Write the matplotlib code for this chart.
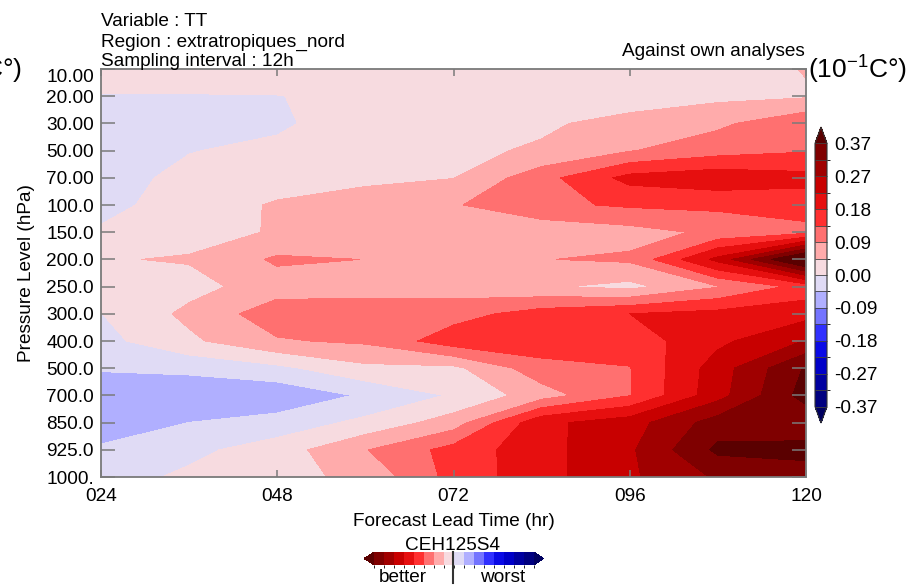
import numpy as np
import matplotlib
matplotlib.use("Agg")
import matplotlib.pyplot as plt
from matplotlib.colors import ListedColormap, BoundaryNorm
from matplotlib.colorbar import ColorbarBase
from matplotlib.lines import Line2D

plt.rcParams['font.family'] = ['Liberation Sans', 'DejaVu Sans']
plt.rcParams['mathtext.fontset'] = 'custom'
plt.rcParams['mathtext.rm'] = 'Liberation Sans'
plt.rcParams['font.size'] = 13.7

# ---------------------------------------------------------------- data
lead_hours = [24, 36, 48, 60, 72, 84, 96, 108, 120]
x_tick_hours = [24, 48, 72, 96, 120]
x_tick_labels = ["024", "048", "072", "096", "120"]
pressure_labels = ["10.00", "20.00", "30.00", "50.00", "70.00", "100.0",
                   "150.0", "200.0", "250.0", "300.0", "400.0", "500.0",
                   "700.0", "850.0", "925.0", "1000."]

# score difference (10^-1 C), one row per pressure level, one column per lead time
p10 = [0.020, 0.020, 0.020, 0.020, 0.025, 0.030, 0.030, 0.020, 0.049]
p20 = [-0.002, -0.002, -0.001, 0.010, 0.015, 0.020, 0.025, 0.035, 0.041]
p30 = [-0.020, -0.015, -0.009, 0.030, 0.030, 0.040, 0.060, 0.083, 0.130]
p50 = [-0.025, -0.002, 0.012, 0.035, 0.038, 0.051, 0.090, 0.120, 0.135]
p70 = [-0.020, 0.013, 0.025, 0.035, 0.045, 0.122, 0.200, 0.215, 0.200]
p100 = [-0.015, 0.023, 0.051, 0.070, 0.088, 0.129, 0.145, 0.150, 0.160]
p150 = [0.006, 0.030, 0.050, 0.065, 0.070, 0.060, 0.075, 0.102, 0.125]
p200 = [0.043, 0.050, 0.100, 0.092, 0.085, 0.091, 0.100, 0.245, 0.450]
p250 = [0.035, 0.030, 0.070, 0.070, 0.070, 0.052, 0.033, 0.090, 0.156]
p300 = [-0.001, 0.0575, 0.119, 0.120, 0.120, 0.160, 0.185, 0.200, 0.215]
p400 = [-0.015, 0.037, 0.088, 0.100, 0.165, 0.170, 0.160, 0.220, 0.280]
p500 = [-0.040, -0.035, -0.012, 0.035, 0.035, 0.120, 0.137, 0.255, 0.375]
p700 = [-0.090, -0.080, -0.080, -0.040, 0.005, 0.071, 0.137, 0.260, 0.390]
p850 = [-0.070, -0.046, -0.028, 0.012, 0.069, 0.220, 0.257, 0.346, 0.330]
p925 = [-0.040, -0.012, 0.023, 0.090, 0.156, 0.215, 0.270, 0.380, 0.390]
p1000 = [-0.020, 0.009, 0.030, 0.059, 0.155, 0.215, 0.270, 0.330, 0.340]

score = np.array([p10, p20, p30, p50, p70, p100, p150, p200, p250, p300,
                  p400, p500, p700, p850, p925, p1000])

levels = np.linspace(-0.37, 0.37, 17)
level_labels = ["-0.37", "-0.27", "-0.18", "-0.09", "0.00",
                "0.09", "0.18", "0.27", "0.37"]

band_colors = ["#000080", "#0000a0", "#0000c8", "#0a0ae6", "#3030ff",
               "#7474ff", "#b0afff", "#e0dbf5", "#f7dbe0", "#ffabab",
               "#ff7070", "#ff3030", "#e60f0f", "#c80000", "#a00000",
               "#7f0000"]
under_color = "#000060"
over_color = "#5a0000"

W, H = 916, 585


def fx(px):
    return px / W


def fy(py):
    return 1 - py / H


cmap = ListedColormap(band_colors)
cmap.set_under(under_color)
cmap.set_over(over_color)
norm = BoundaryNorm(levels, cmap.N)

fig = plt.figure(figsize=(W / 100, H / 100), dpi=100)

# ---------------------------------------------------------------- main panel
ax = fig.add_axes([fx(101), fy(477), fx(806) - fx(101), fy(69) - fy(477)])
rows = np.arange(len(pressure_labels))
cs = ax.contourf(lead_hours, rows, score, levels=levels, cmap=cmap,
                 norm=norm, extend='both')
ax.set_xlim(lead_hours[0], lead_hours[-1])
ax.set_ylim(rows[-1], rows[0])

frame_color = "#7a7a7a"
for sp in ax.spines.values():
    sp.set_color(frame_color)
    sp.set_linewidth(1.3)

ax.set_xticks(x_tick_hours)
ax.set_xticklabels(x_tick_labels)
ax.set_yticks(rows)
ax.set_yticklabels(pressure_labels)
ax.tick_params(axis='x', direction='in', length=5, width=1.1,
               color=frame_color, top=True, pad=8)
ax.tick_params(axis='y', direction='in', length=10, width=1.1,
               color=frame_color, right=True, pad=5)
ax.get_yticklabels()[0].set_va('top')

ax.set_xlabel("Forecast Lead Time (hr)", labelpad=6)
ax.set_ylabel("Pressure Level (hPa)", labelpad=8)

# ---------------------------------------------------------------- header text
fig.text(fx(101), fy(26.5), "Variable : TT", ha='left', va='baseline')
fig.text(fx(101), fy(46.5), "Region : extratropiques_nord", ha='left',
         va='baseline')
fig.text(fx(101), fy(66), "Sampling interval : 12h", ha='left',
         va='baseline')
fig.text(fx(805), fy(55.5), "Against own analyses", ha='right',
         va='baseline')
unit = r"(10$^{\mathregular{-1}}$C°)"
fig.text(fx(808), fy(78), unit, ha='left', va='baseline', fontsize=19)
fig.text(fx(22), fy(78), unit, ha='right', va='baseline', fontsize=19)

# ---------------------------------------------------------------- colour key
cax = fig.add_axes([fx(815), fy(423), fx(827) - fx(815), fy(127) - fy(423)])
cb = fig.colorbar(cs, cax=cax, ticks=levels[::2], extendfrac='auto',
                  drawedges=True)
cb.ax.set_yticklabels(level_labels)
cb.ax.tick_params(length=0, pad=5)
cb.outline.set_edgecolor("#333333")
cb.outline.set_linewidth(0.8)
cb.dividers.set_color("#444444")
cb.dividers.set_linewidth(0.6)

# ---------------------------------------------------------------- better / worst strip
sax = fig.add_axes([fx(364.2), fy(565), fx(543.8) - fx(364.2), fy(552) - fy(565)])
strip_cmap = ListedColormap(band_colors[::-1])
strip_cmap.set_under(over_color)
strip_cmap.set_over(under_color)
sb = ColorbarBase(sax, cmap=strip_cmap,
                  norm=BoundaryNorm(np.arange(17), 16),
                  orientation='horizontal', extend='both', extendfrac='auto')
sb.outline.set_visible(False)
sb.set_ticks([])
fig.add_artist(Line2D([fx(453), fx(453)], [fy(552), fy(583)], color='#333333',
                      lw=1.5))
fig.text(fx(453), fy(549.5), "CEH125S4", ha='center', va='baseline')
fig.text(fx(403), fy(582), "better", ha='center', va='baseline')
fig.text(fx(503), fy(582), "worst", ha='center', va='baseline')

fig.savefig("out.png", dpi=100)
